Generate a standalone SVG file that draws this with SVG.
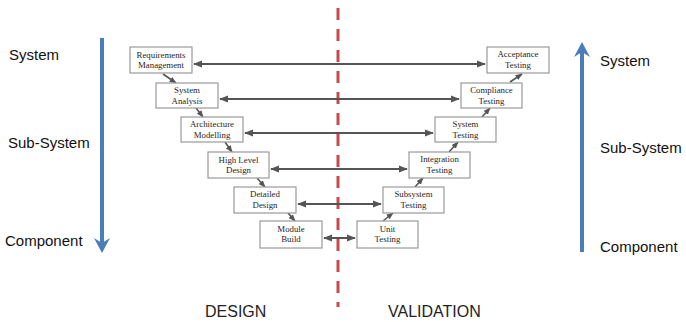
<svg xmlns="http://www.w3.org/2000/svg" width="686" height="322" viewBox="0 0 686 322">
  <style>
    .box rect { fill: #ffffff; stroke: #9a9a9a; stroke-width: 1.2; }
    .box text { font-family: "Liberation Serif", "Times New Roman", serif; font-size: 8.8px; fill: #262626; text-anchor: middle; }
    .link { stroke: #555555; stroke-width: 2; fill: none; }
    .step { stroke: #555555; stroke-width: 1.6; fill: none; }
    .level { font-family: "Liberation Sans", Arial, sans-serif; font-size: 15px; fill: #111111; }
    .phase { font-family: "Liberation Sans", Arial, sans-serif; font-size: 16px; fill: #222222; }
    .flow { stroke: #4a7ebb; stroke-width: 4; fill: none; }
    .flowHead { fill: #4a7ebb; }
  </style>
  <defs>
    <marker id="head" viewBox="0 0 10 8" refX="9" refY="4" markerWidth="4.5" markerHeight="3.6" orient="auto-start-reverse" markerUnits="strokeWidth">
      <path d="M0,0 L10,4 L0,8 Z" fill="#555555"/>
    </marker>
    <marker id="stepHead" viewBox="0 0 10 8" refX="9" refY="4" markerWidth="4.5" markerHeight="3.6" orient="auto" markerUnits="strokeWidth">
      <path d="M0,0 L10,4 L0,8 Z" fill="#555555"/>
    </marker>
  </defs>

  <!-- phase divider -->
  <line x1="338" y1="8" x2="338" y2="307" stroke="#c9484a" stroke-width="3" stroke-dasharray="12 9"/>

  <!-- level arrows -->
  <g id="decomposition">
    <line class="flow" x1="102" y1="38" x2="102" y2="246"/>
    <path class="flowHead" d="M94,238 L102,253 L110,238 L102,243 Z"/>
    <text class="level" x="9" y="60">System</text>
    <text class="level" x="8" y="148">Sub-System</text>
    <text class="level" x="5" y="246">Component</text>
  </g>
  <g id="integration">
    <line class="flow" x1="582" y1="252" x2="582" y2="50"/>
    <path class="flowHead" d="M574,57 L582,42 L590,57 L582,52 Z"/>
    <text class="level" x="600" y="66">System</text>
    <text class="level" x="600" y="153">Sub-System</text>
    <text class="level" x="600" y="252">Component</text>
  </g>

  <!-- connectors -->
  <g id="connectors">
    <line class="link" x1="194" y1="64" x2="485" y2="64" marker-start="url(#head)" marker-end="url(#head)"/>
    <line class="link" x1="220" y1="99" x2="459" y2="99" marker-start="url(#head)" marker-end="url(#head)"/>
    <line class="link" x1="245" y1="133" x2="433" y2="133" marker-start="url(#head)" marker-end="url(#head)"/>
    <line class="link" x1="271" y1="169" x2="407" y2="169" marker-start="url(#head)" marker-end="url(#head)"/>
    <line class="link" x1="298" y1="204" x2="381" y2="204" marker-start="url(#head)" marker-end="url(#head)"/>
    <line class="link" x1="324" y1="238" x2="355" y2="238" marker-start="url(#head)" marker-end="url(#head)"/>

    <line class="step" x1="163" y1="74" x2="176" y2="83" marker-end="url(#stepHead)"/>
    <line class="step" x1="196" y1="108" x2="203" y2="117" marker-end="url(#stepHead)"/>
    <line class="step" x1="225" y1="142" x2="232" y2="152" marker-end="url(#stepHead)"/>
    <line class="step" x1="257" y1="178" x2="265" y2="187" marker-end="url(#stepHead)"/>
    <line class="step" x1="288" y1="213" x2="295" y2="221" marker-end="url(#stepHead)"/>

    <line class="step" x1="510" y1="82" x2="522" y2="74" marker-end="url(#stepHead)"/>
    <line class="step" x1="482" y1="117" x2="490" y2="108" marker-end="url(#stepHead)"/>
    <line class="step" x1="449" y1="152" x2="458" y2="142" marker-end="url(#stepHead)"/>
    <line class="step" x1="415" y1="187" x2="423" y2="178" marker-end="url(#stepHead)"/>
    <line class="step" x1="383" y1="221" x2="393" y2="213" marker-end="url(#stepHead)"/>
  </g>

  <!-- design side -->
  <g id="requirements-management" class="box">
    <rect x="130" y="47" width="62" height="26"/>
    <text x="161" y="57.5">Requirements</text>
    <text x="161" y="68">Management</text>
  </g>
  <g id="system-analysis" class="box">
    <rect x="156" y="83" width="62" height="25"/>
    <text x="187" y="93">System</text>
    <text x="187" y="103.5">Analysis</text>
  </g>
  <g id="architecture-modelling" class="box">
    <rect x="181" y="117" width="62" height="25"/>
    <text x="212" y="127">Architecture</text>
    <text x="212" y="137.5">Modelling</text>
  </g>
  <g id="high-level-design" class="box">
    <rect x="208" y="152" width="61" height="26"/>
    <text x="238.5" y="162.5">High Level</text>
    <text x="238.5" y="173">Design</text>
  </g>
  <g id="detailed-design" class="box">
    <rect x="234" y="187" width="62" height="26"/>
    <text x="265" y="197">Detailed</text>
    <text x="265" y="207.5">Design</text>
  </g>
  <g id="module-build" class="box">
    <rect x="260" y="221" width="62" height="27"/>
    <text x="291" y="231.5">Module</text>
    <text x="291" y="242">Build</text>
  </g>

  <!-- validation side -->
  <g id="acceptance-testing" class="box">
    <rect x="487" y="47" width="62" height="26"/>
    <text x="518" y="57">Acceptance</text>
    <text x="518" y="67.5">Testing</text>
  </g>
  <g id="compliance-testing" class="box">
    <rect x="461" y="83" width="61" height="25"/>
    <text x="491.5" y="93">Compliance</text>
    <text x="491.5" y="103.5">Testing</text>
  </g>
  <g id="system-testing" class="box">
    <rect x="435" y="117" width="61" height="25"/>
    <text x="465.5" y="127">System</text>
    <text x="465.5" y="137.5">Testing</text>
  </g>
  <g id="integration-testing" class="box">
    <rect x="409" y="152" width="61" height="26"/>
    <text x="439.5" y="162">Integration</text>
    <text x="439.5" y="172.5">Testing</text>
  </g>
  <g id="subsystem-testing" class="box">
    <rect x="383" y="187" width="61" height="26"/>
    <text x="413.5" y="197">Subsystem</text>
    <text x="413.5" y="207.5">Testing</text>
  </g>
  <g id="unit-testing" class="box">
    <rect x="357" y="221" width="61" height="27"/>
    <text x="387.5" y="231.5">Unit</text>
    <text x="387.5" y="242">Testing</text>
  </g>

  <!-- phase labels -->
  <text class="phase" x="205" y="317">DESIGN</text>
  <text class="phase" x="388" y="317">VALIDATION</text>
</svg>
